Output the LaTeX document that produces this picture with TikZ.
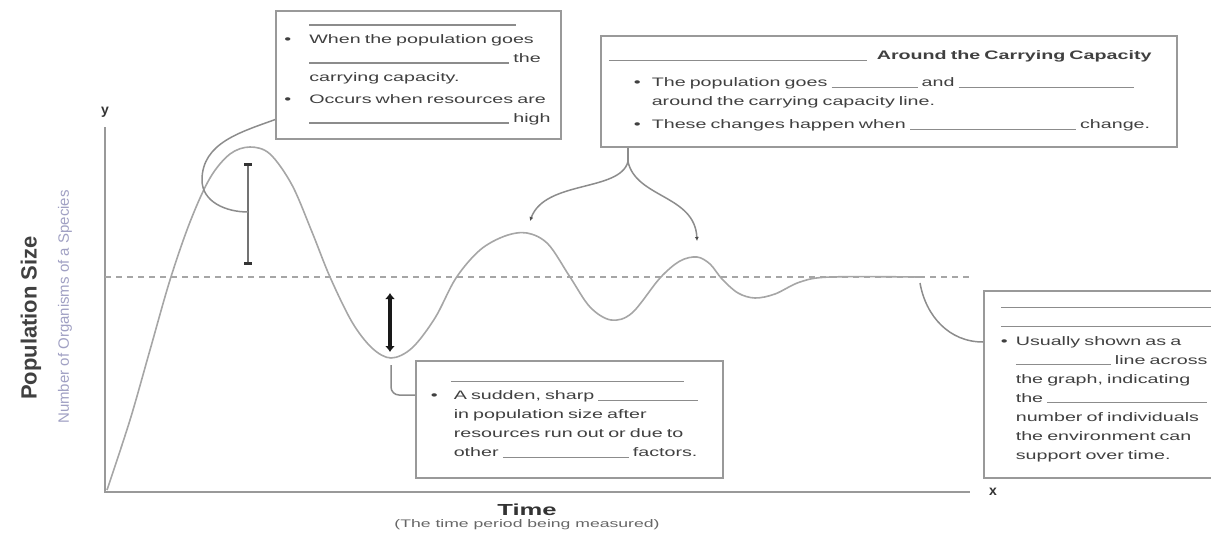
\documentclass[tikz,border=0pt]{standalone}
\usepackage{fontspec}
\setmainfont{Liberation Sans}
\newfontfamily\boxfont[FakeStretch=1.6]{Liberation Sans}
\usetikzlibrary{positioning,arrows.meta}
\definecolor{subgray}{RGB}{160,160,195}
\newcommand\blank[1]{\textcolor{black!45}{\rule[-1pt]{#1pt}{1.2pt}}}
\newcommand\bul[1]{\makebox[#1pt][l]{\textbullet}}
\newcommand\ind[1]{\hspace*{#1pt}}

\begin{document}
\begin{tikzpicture}[
		x=1pt, y=-1pt,
		axisline/.style={draw=black!40, line width=2pt},
		capline/.style={draw=black!35, line width=1.3pt, dash pattern=on 6pt off 5pt},
		growth/.style={draw=black!35, line width=1.6pt},
		callbox/.style={ % 说明框
				draw=black!40, line width=1.6pt, fill=white,
				anchor=north west, align=left, text=black!75,
				font=\boxfont\fontsize{12.3}{19}\selectfont
			},
		callout/.style={draw=black!45, line width=1.5pt},
		tipend/.style={-{Latex[length=4pt,width=4pt,color=black!70]}}
	]
	\useasboundingbox (0,0) rectangle (1211,536);
	% 坐标轴
	\coordinate (O) at (105,492);
	\coordinate (ytop) at (105,127);
	\coordinate (xend) at (970,492);
	\draw[axisline] (ytop) -- (O) -- (xend);
	\node[above=8pt of ytop, inner sep=1pt, font=\bfseries\fontsize{14}{16}\selectfont, text=black!80] (ylet) {y};
	\node[right=18pt of xend, inner sep=1pt, font=\bfseries\fontsize{14}{16}\selectfont, text=black!80] (xlet) {x};
	\node[rotate=90, font=\bfseries\fontsize{22}{24}\selectfont, text=black!75] (ylab) at (31,318) {Population Size};
	\node[rotate=90, font=\fontsize{15}{17}\selectfont, text=subgray] (ysub) at (65,307) {Number of Organisms of a Species};
	\node[font=\boxfont\bfseries\fontsize{16}{18}\selectfont, text=black!80] (tlab) at (527,510) {Time};
	\node[below=-3pt of tlab, font=\boxfont\fontsize{11}{12}\selectfont, text=black!60] (tsub) {(The time period being measured)};
	% 环境容纳量
	\coordinate (kL) at (105,277);
	\coordinate (kR) at (970,277);
	\draw[capline] (kL) -- (kR);
	% 种群曲线
	\draw[growth] plot[smooth, tension=0.55] coordinates {
			(107,490) (130,420) (150,350) (170,280) (190,222) (210,178) (230,154)
			(250,147) (270,154) (292,185) (312,232) (330,277) (352,322) (372,348)
			(391,358) (412,348) (435,318) (456,278) (480,250) (505,236) (527,233)
			(548,244) (570,277) (590,307) (611,320) (632,313) (660,278) (680,261)
			(697,257) (710,264) (722,279) (738,293) (755,298) (775,294) (800,282)
			(830,277) (920,277)};
	\coordinate (b1t) at (248,163);
	\coordinate (b1b) at (248,265);
	\coordinate (b1m) at (248,212);
	\coordinate (b2t) at (390,293);
	\coordinate (b2b) at (390,352);
	\coordinate (tr) at (391,365);
	\coordinate (pk1) at (530,221);
	\coordinate (pk2) at (697,241);
	\coordinate (flat) at (920,283);
	% 振幅
	\draw[line width=2.5pt, draw=black!55,
		{Rectangle[length=3pt,width=8pt,color=black!80]}-{Rectangle[length=3pt,width=8pt,color=black!80]}]
	(b1t) -- (b1b);
	\draw[line width=3.5pt, draw=black!90,
		{Latex[length=6pt,width=10pt]}-{Latex[length=6pt,width=10pt]}]
	(b2t) -- (b2b);
	% 说明框
	\node[callbox, text width=268pt, inner xsep=8.5pt, minimum height=128pt] (box1) at (275,10) {
		\ind{25}\blank{207}\\
		\bul{25}When the population goes\\
		\ind{25}\blank{200} the\\
		\ind{25}carrying capacity.\\[3pt]
		\bul{25}Occurs when resources are\\
		\ind{25}\blank{200} high};
	\node[callbox, text width=560pt, inner xsep=8pt, minimum height=111pt] (box2) at (600,35) {
		\blank{258}\hspace{10pt}\textbf{Around the Carrying Capacity}\\[8pt]
		\ind{25}\bul{18}The population goes \blank{86} and \blank{175}\\
		\ind{43}around the carrying capacity line.\\[4pt]
		\ind{25}\bul{18}These changes happen when \blank{166} change.};
	\node[callbox, text width=277pt, inner xsep=15pt, minimum height=117pt] (box3) at (415,360) {
		\ind{20}\blank{233}\\
		\bul{23}A sudden, sharp \blank{100}\\
		\ind{23}in population size after\\
		\ind{23}resources run out or due to\\
		\ind{23}other \blank{126} factors.};
	\node[callbox, text width=300pt, inner xsep=17pt, minimum height=187pt] (box4) at (983,290) {
		\blank{215}\\
		\blank{215}\\
		\bul{15}Usually shown as a\\
		\ind{15}\blank{95} line across\\
		\ind{15}the graph, indicating\\
		\ind{15}the \blank{160}\\
		\ind{15}number of individuals\\
		\ind{15}the environment can\\
		\ind{15}support over time.};
	% 引线
	\draw[callout] ([yshift=20pt]box1.south west) to[out=200, in=90] (202,180) to[out=-90, in=180] (b1m);
	\coordinate (j2) at ([xshift=28pt, yshift=-14pt]box2.south west);
	\draw[callout] ([xshift=28pt]box2.south west) -- (j2);
	\draw[callout, tipend] (j2) .. controls (620,192) and (545,180) .. (pk1);
	\draw[callout, tipend] (j2) .. controls (636,198) and (695,195) .. (pk2);
	\draw[callout, rounded corners=8pt] (tr) |- ([yshift=-35pt]box3.north west);
	\draw[callout] (flat) to[out=-80, in=180] ([yshift=-52pt]box4.north west);
\end{tikzpicture}
\end{document}
